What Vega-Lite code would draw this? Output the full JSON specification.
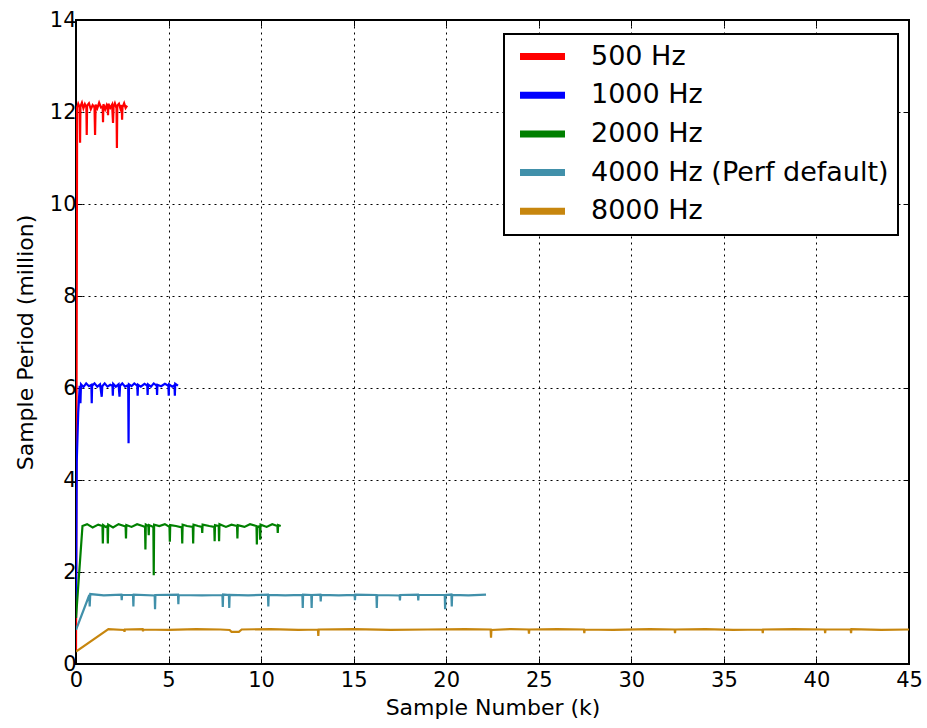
{
  "$schema": "https://vega.github.io/schema/vega-lite/v6.json",
  "autosize": "none",
  "padding": {"left": 76, "top": 20, "right": 18, "bottom": 64},
  "width": 833,
  "height": 644,
  "background": "white",
  "config": {
    "view": {"stroke": "black", "strokeWidth": 2},
    "font": "DejaVu Sans",
    "axis": {
      "labelFont": "DejaVu Sans", "labelFontSize": 21, "labelColor": "black",
      "titleFont": "DejaVu Sans", "titleFontSize": 22, "titleFontWeight": "normal", "titleColor": "black",
      "grid": true, "gridColor": "black", "gridDash": [2, 4], "gridOpacity": 1, "gridWidth": 1,
      "domain": false, "tickColor": "black", "tickSize": -6, "tickWidth": 1,
      "labelFlush": false, "labelOverlap": false
    },
    "legend": {
      "orient": "none", "legendX": 428, "legendY": 14,
      "strokeColor": "black", "strokeWidth": 2, "fillColor": "white", "padding": 9,
      "symbolType": "M-2.5,0H2.5", "symbolSize": 324, "symbolStrokeWidth": 7, "symbolOffset": 16,
      "labelFont": "DejaVu Sans", "labelFontSize": 27, "labelColor": "black",
      "labelOffset": 35, "rowPadding": 9.7, "labelLimit": 400
    }
  },
  "resolve": {"axis": {"x": "independent", "y": "independent"}},
  "layer": [
  {
  "data": {"values": [
    {"s":"500 Hz","x":0,"y":0.3},{"s":"500 Hz","x":0.06,"y":12.1},{"s":"500 Hz","x":0.12,"y":12.18},{"s":"500 Hz","x":0.2,"y":12.1},{"s":"500 Hz","x":0.22,"y":11.33},{"s":"500 Hz","x":0.24,"y":12.12},{"s":"500 Hz","x":0.32,"y":12.2},{"s":"500 Hz","x":0.4,"y":12.08},{"s":"500 Hz","x":0.48,"y":12.17},{"s":"500 Hz","x":0.56,"y":12.1},{"s":"500 Hz","x":0.58,"y":11.5},{"s":"500 Hz","x":0.6,"y":12.14},{"s":"500 Hz","x":0.7,"y":12.19},{"s":"500 Hz","x":0.8,"y":12.06},{"s":"500 Hz","x":0.9,"y":12.15},{"s":"500 Hz","x":1.0,"y":12.1},{"s":"500 Hz","x":1.03,"y":11.5},{"s":"500 Hz","x":1.06,"y":12.16},{"s":"500 Hz","x":1.15,"y":12.08},{"s":"500 Hz","x":1.25,"y":12.2},{"s":"500 Hz","x":1.35,"y":12.1},{"s":"500 Hz","x":1.44,"y":12.12},{"s":"500 Hz","x":1.46,"y":11.78},{"s":"500 Hz","x":1.48,"y":12.17},{"s":"500 Hz","x":1.58,"y":12.06},{"s":"500 Hz","x":1.66,"y":12.15},{"s":"500 Hz","x":1.71,"y":12.1},{"s":"500 Hz","x":1.73,"y":11.93},{"s":"500 Hz","x":1.75,"y":12.18},{"s":"500 Hz","x":1.85,"y":12.09},{"s":"500 Hz","x":1.95,"y":12.16},{"s":"500 Hz","x":2.0,"y":11.76},{"s":"500 Hz","x":2.03,"y":12.12},{"s":"500 Hz","x":2.1,"y":12.19},{"s":"500 Hz","x":2.19,"y":12.08},{"s":"500 Hz","x":2.21,"y":11.22},{"s":"500 Hz","x":2.23,"y":12.14},{"s":"500 Hz","x":2.32,"y":12.18},{"s":"500 Hz","x":2.4,"y":12.07},{"s":"500 Hz","x":2.47,"y":12.15},{"s":"500 Hz","x":2.49,"y":11.83},{"s":"500 Hz","x":2.51,"y":12.1},{"s":"500 Hz","x":2.6,"y":12.19},{"s":"500 Hz","x":2.68,"y":12.09},{"s":"500 Hz","x":2.76,"y":12.14},

    {"s":"1000 Hz","x":0,"y":1.0},{"s":"1000 Hz","x":0.04,"y":4.4},{"s":"1000 Hz","x":0.12,"y":5.47},{"s":"1000 Hz","x":0.2,"y":6.05},{"s":"1000 Hz","x":0.24,"y":5.67},{"s":"1000 Hz","x":0.27,"y":6.08},{"s":"1000 Hz","x":0.4,"y":6.02},{"s":"1000 Hz","x":0.55,"y":6.1},{"s":"1000 Hz","x":0.7,"y":6.04},{"s":"1000 Hz","x":0.83,"y":6.07},{"s":"1000 Hz","x":0.85,"y":5.67},{"s":"1000 Hz","x":0.87,"y":6.05},{"s":"1000 Hz","x":1.0,"y":6.1},{"s":"1000 Hz","x":1.15,"y":6.03},{"s":"1000 Hz","x":1.3,"y":6.08},{"s":"1000 Hz","x":1.39,"y":5.81},{"s":"1000 Hz","x":1.42,"y":6.04},{"s":"1000 Hz","x":1.55,"y":6.1},{"s":"1000 Hz","x":1.7,"y":6.03},{"s":"1000 Hz","x":1.85,"y":6.07},{"s":"1000 Hz","x":1.97,"y":6.05},{"s":"1000 Hz","x":1.99,"y":5.83},{"s":"1000 Hz","x":2.01,"y":6.09},{"s":"1000 Hz","x":2.15,"y":6.03},{"s":"1000 Hz","x":2.3,"y":6.08},{"s":"1000 Hz","x":2.35,"y":5.81},{"s":"1000 Hz","x":2.38,"y":6.05},{"s":"1000 Hz","x":2.5,"y":6.1},{"s":"1000 Hz","x":2.65,"y":6.03},{"s":"1000 Hz","x":2.82,"y":6.06},{"s":"1000 Hz","x":2.84,"y":4.8},{"s":"1000 Hz","x":2.86,"y":6.08},{"s":"1000 Hz","x":3.0,"y":6.04},{"s":"1000 Hz","x":3.15,"y":6.1},{"s":"1000 Hz","x":3.31,"y":6.05},{"s":"1000 Hz","x":3.33,"y":5.83},{"s":"1000 Hz","x":3.35,"y":6.07},{"s":"1000 Hz","x":3.5,"y":6.03},{"s":"1000 Hz","x":3.7,"y":6.09},{"s":"1000 Hz","x":3.85,"y":6.05},{"s":"1000 Hz","x":3.87,"y":5.85},{"s":"1000 Hz","x":3.89,"y":6.08},{"s":"1000 Hz","x":4.05,"y":6.03},{"s":"1000 Hz","x":4.2,"y":6.1},{"s":"1000 Hz","x":4.36,"y":6.05},{"s":"1000 Hz","x":4.38,"y":5.85},{"s":"1000 Hz","x":4.4,"y":6.07},{"s":"1000 Hz","x":4.6,"y":6.04},{"s":"1000 Hz","x":4.8,"y":6.09},{"s":"1000 Hz","x":4.99,"y":6.05},{"s":"1000 Hz","x":5.01,"y":5.83},{"s":"1000 Hz","x":5.03,"y":6.08},{"s":"1000 Hz","x":5.2,"y":6.03},{"s":"1000 Hz","x":5.32,"y":6.06},{"s":"1000 Hz","x":5.34,"y":5.83},{"s":"1000 Hz","x":5.36,"y":6.09},{"s":"1000 Hz","x":5.51,"y":6.05},

    {"s":"2000 Hz","x":0,"y":1.0},{"s":"2000 Hz","x":0.35,"y":3.0},{"s":"2000 Hz","x":0.6,"y":3.04},{"s":"2000 Hz","x":0.9,"y":2.97},{"s":"2000 Hz","x":1.2,"y":3.03},{"s":"2000 Hz","x":1.43,"y":3.0},{"s":"2000 Hz","x":1.45,"y":2.62},{"s":"2000 Hz","x":1.47,"y":3.02},{"s":"2000 Hz","x":1.6,"y":2.98},{"s":"2000 Hz","x":1.7,"y":3.0},{"s":"2000 Hz","x":1.72,"y":2.62},{"s":"2000 Hz","x":1.74,"y":3.03},{"s":"2000 Hz","x":2.0,"y":2.97},{"s":"2000 Hz","x":2.3,"y":3.04},{"s":"2000 Hz","x":2.6,"y":3.0},{"s":"2000 Hz","x":2.68,"y":2.99},{"s":"2000 Hz","x":2.7,"y":2.73},{"s":"2000 Hz","x":2.72,"y":3.02},{"s":"2000 Hz","x":3.0,"y":2.98},{"s":"2000 Hz","x":3.3,"y":3.04},{"s":"2000 Hz","x":3.6,"y":3.0},{"s":"2000 Hz","x":3.73,"y":2.98},{"s":"2000 Hz","x":3.75,"y":2.49},{"s":"2000 Hz","x":3.77,"y":3.03},{"s":"2000 Hz","x":3.91,"y":3.0},{"s":"2000 Hz","x":3.93,"y":2.8},{"s":"2000 Hz","x":3.95,"y":3.02},{"s":"2000 Hz","x":4.18,"y":2.98},{"s":"2000 Hz","x":4.2,"y":1.93},{"s":"2000 Hz","x":4.22,"y":3.03},{"s":"2000 Hz","x":4.5,"y":3.0},{"s":"2000 Hz","x":4.8,"y":3.04},{"s":"2000 Hz","x":5.05,"y":2.98},{"s":"2000 Hz","x":5.07,"y":2.66},{"s":"2000 Hz","x":5.09,"y":3.02},{"s":"2000 Hz","x":5.4,"y":3.0},{"s":"2000 Hz","x":5.72,"y":2.97},{"s":"2000 Hz","x":5.74,"y":2.62},{"s":"2000 Hz","x":5.76,"y":3.03},{"s":"2000 Hz","x":6.0,"y":3.0},{"s":"2000 Hz","x":6.31,"y":2.98},{"s":"2000 Hz","x":6.33,"y":2.62},{"s":"2000 Hz","x":6.35,"y":3.03},{"s":"2000 Hz","x":6.6,"y":3.0},{"s":"2000 Hz","x":6.8,"y":2.98},{"s":"2000 Hz","x":6.82,"y":2.85},{"s":"2000 Hz","x":6.84,"y":3.03},{"s":"2000 Hz","x":7.2,"y":3.0},{"s":"2000 Hz","x":7.47,"y":2.98},{"s":"2000 Hz","x":7.49,"y":2.67},{"s":"2000 Hz","x":7.51,"y":3.02},{"s":"2000 Hz","x":7.71,"y":3.0},{"s":"2000 Hz","x":7.73,"y":2.67},{"s":"2000 Hz","x":7.75,"y":3.04},{"s":"2000 Hz","x":8.1,"y":2.98},{"s":"2000 Hz","x":8.4,"y":3.03},{"s":"2000 Hz","x":8.7,"y":3.0},{"s":"2000 Hz","x":8.72,"y":2.73},{"s":"2000 Hz","x":8.74,"y":3.02},{"s":"2000 Hz","x":9.1,"y":2.98},{"s":"2000 Hz","x":9.4,"y":3.04},{"s":"2000 Hz","x":9.75,"y":3.0},{"s":"2000 Hz","x":9.77,"y":2.6},{"s":"2000 Hz","x":9.79,"y":2.98},{"s":"2000 Hz","x":9.93,"y":3.0},{"s":"2000 Hz","x":9.95,"y":2.7},{"s":"2000 Hz","x":9.97,"y":3.03},{"s":"2000 Hz","x":10.3,"y":2.98},{"s":"2000 Hz","x":10.6,"y":3.04},{"s":"2000 Hz","x":10.88,"y":3.0},{"s":"2000 Hz","x":10.9,"y":2.85},{"s":"2000 Hz","x":10.92,"y":3.02},{"s":"2000 Hz","x":11.06,"y":3.0},

    {"s":"4000 Hz (Perf default)","x":0,"y":0.74},{"s":"4000 Hz (Perf default)","x":0.72,"y":1.5},{"s":"4000 Hz (Perf default)","x":0.74,"y":1.25},{"s":"4000 Hz (Perf default)","x":0.77,"y":1.52},{"s":"4000 Hz (Perf default)","x":1.5,"y":1.49},{"s":"4000 Hz (Perf default)","x":2.45,"y":1.51},{"s":"4000 Hz (Perf default)","x":2.47,"y":1.39},{"s":"4000 Hz (Perf default)","x":2.49,"y":1.5},{"s":"4000 Hz (Perf default)","x":3.08,"y":1.5},{"s":"4000 Hz (Perf default)","x":3.1,"y":1.25},{"s":"4000 Hz (Perf default)","x":3.12,"y":1.51},{"s":"4000 Hz (Perf default)","x":4.25,"y":1.49},{"s":"4000 Hz (Perf default)","x":4.27,"y":1.19},{"s":"4000 Hz (Perf default)","x":4.29,"y":1.5},{"s":"4000 Hz (Perf default)","x":5.51,"y":1.51},{"s":"4000 Hz (Perf default)","x":5.53,"y":1.3},{"s":"4000 Hz (Perf default)","x":5.55,"y":1.5},{"s":"4000 Hz (Perf default)","x":6.8,"y":1.49},{"s":"4000 Hz (Perf default)","x":7.91,"y":1.5},{"s":"4000 Hz (Perf default)","x":7.93,"y":1.24},{"s":"4000 Hz (Perf default)","x":7.95,"y":1.51},{"s":"4000 Hz (Perf default)","x":8.26,"y":1.5},{"s":"4000 Hz (Perf default)","x":8.28,"y":1.22},{"s":"4000 Hz (Perf default)","x":8.3,"y":1.5},{"s":"4000 Hz (Perf default)","x":9.3,"y":1.49},{"s":"4000 Hz (Perf default)","x":10.37,"y":1.51},{"s":"4000 Hz (Perf default)","x":10.39,"y":1.25},{"s":"4000 Hz (Perf default)","x":10.41,"y":1.5},{"s":"4000 Hz (Perf default)","x":11.3,"y":1.49},{"s":"4000 Hz (Perf default)","x":12.23,"y":1.5},{"s":"4000 Hz (Perf default)","x":12.25,"y":1.22},{"s":"4000 Hz (Perf default)","x":12.27,"y":1.51},{"s":"4000 Hz (Perf default)","x":12.71,"y":1.5},{"s":"4000 Hz (Perf default)","x":12.73,"y":1.22},{"s":"4000 Hz (Perf default)","x":12.75,"y":1.5},{"s":"4000 Hz (Perf default)","x":13.2,"y":1.51},{"s":"4000 Hz (Perf default)","x":13.22,"y":1.36},{"s":"4000 Hz (Perf default)","x":13.24,"y":1.5},{"s":"4000 Hz (Perf default)","x":14.2,"y":1.49},{"s":"4000 Hz (Perf default)","x":15.05,"y":1.5},{"s":"4000 Hz (Perf default)","x":15.07,"y":1.39},{"s":"4000 Hz (Perf default)","x":15.09,"y":1.51},{"s":"4000 Hz (Perf default)","x":16.23,"y":1.5},{"s":"4000 Hz (Perf default)","x":16.25,"y":1.22},{"s":"4000 Hz (Perf default)","x":16.27,"y":1.5},{"s":"4000 Hz (Perf default)","x":17.48,"y":1.49},{"s":"4000 Hz (Perf default)","x":17.5,"y":1.38},{"s":"4000 Hz (Perf default)","x":17.52,"y":1.5},{"s":"4000 Hz (Perf default)","x":18.47,"y":1.51},{"s":"4000 Hz (Perf default)","x":18.49,"y":1.38},{"s":"4000 Hz (Perf default)","x":18.51,"y":1.5},{"s":"4000 Hz (Perf default)","x":19.92,"y":1.5},{"s":"4000 Hz (Perf default)","x":19.94,"y":1.19},{"s":"4000 Hz (Perf default)","x":19.96,"y":1.5},{"s":"4000 Hz (Perf default)","x":20.28,"y":1.51},{"s":"4000 Hz (Perf default)","x":20.3,"y":1.25},{"s":"4000 Hz (Perf default)","x":20.32,"y":1.5},{"s":"4000 Hz (Perf default)","x":21.2,"y":1.49},{"s":"4000 Hz (Perf default)","x":22.15,"y":1.51},

    {"s":"8000 Hz","x":0,"y":0.27},{"s":"8000 Hz","x":1.75,"y":0.76},{"s":"8000 Hz","x":2.6,"y":0.74},{"s":"8000 Hz","x":2.62,"y":0.7},{"s":"8000 Hz","x":2.64,"y":0.75},{"s":"8000 Hz","x":3.6,"y":0.76},{"s":"8000 Hz","x":3.62,"y":0.71},{"s":"8000 Hz","x":3.64,"y":0.75},{"s":"8000 Hz","x":5.0,"y":0.74},{"s":"8000 Hz","x":6.5,"y":0.76},{"s":"8000 Hz","x":7.8,"y":0.75},{"s":"8000 Hz","x":8.3,"y":0.74},{"s":"8000 Hz","x":8.4,"y":0.7},{"s":"8000 Hz","x":8.8,"y":0.7},{"s":"8000 Hz","x":8.95,"y":0.75},{"s":"8000 Hz","x":10.5,"y":0.76},{"s":"8000 Hz","x":12.0,"y":0.74},{"s":"8000 Hz","x":13.07,"y":0.75},{"s":"8000 Hz","x":13.09,"y":0.61},{"s":"8000 Hz","x":13.11,"y":0.75},{"s":"8000 Hz","x":15,"y":0.76},{"s":"8000 Hz","x":17,"y":0.74},{"s":"8000 Hz","x":19,"y":0.75},{"s":"8000 Hz","x":21,"y":0.76},{"s":"8000 Hz","x":22.4,"y":0.75},{"s":"8000 Hz","x":22.42,"y":0.57},{"s":"8000 Hz","x":22.44,"y":0.74},{"s":"8000 Hz","x":23.5,"y":0.76},{"s":"8000 Hz","x":24.45,"y":0.75},{"s":"8000 Hz","x":24.47,"y":0.66},{"s":"8000 Hz","x":24.49,"y":0.75},{"s":"8000 Hz","x":26,"y":0.76},{"s":"8000 Hz","x":27.44,"y":0.75},{"s":"8000 Hz","x":27.46,"y":0.67},{"s":"8000 Hz","x":27.48,"y":0.75},{"s":"8000 Hz","x":29,"y":0.74},{"s":"8000 Hz","x":31,"y":0.76},{"s":"8000 Hz","x":32.34,"y":0.75},{"s":"8000 Hz","x":32.36,"y":0.67},{"s":"8000 Hz","x":32.38,"y":0.75},{"s":"8000 Hz","x":34,"y":0.76},{"s":"8000 Hz","x":35.5,"y":0.74},{"s":"8000 Hz","x":37.08,"y":0.75},{"s":"8000 Hz","x":37.1,"y":0.67},{"s":"8000 Hz","x":37.12,"y":0.75},{"s":"8000 Hz","x":38.8,"y":0.76},{"s":"8000 Hz","x":40.45,"y":0.75},{"s":"8000 Hz","x":40.47,"y":0.67},{"s":"8000 Hz","x":40.49,"y":0.75},{"s":"8000 Hz","x":41.85,"y":0.75},{"s":"8000 Hz","x":41.87,"y":0.67},{"s":"8000 Hz","x":41.89,"y":0.76},{"s":"8000 Hz","x":43.5,"y":0.74},{"s":"8000 Hz","x":45,"y":0.75}
  ]},
  "mark": {"type": "line", "strokeWidth": 2.2, "clip": true},
  "encoding": {
    "x": {"field": "x", "type": "quantitative", "scale": {"domain": [0, 45], "nice": false, "zero": false},
      "axis": {"title": "Sample Number (k)", "values": [0,5,10,15,20,25,30,35,40,45], "labelPadding": 11, "titlePadding": 7}},
    "y": {"field": "y", "type": "quantitative", "scale": {"domain": [0, 14], "nice": false},
      "axis": {"title": "Sample Period (million)", "values": [0,2,4,6,8,10,12,14], "labelPadding": 6, "titlePadding": 12}},
    "color": {"field": "s", "type": "nominal",
      "scale": {"domain": ["500 Hz","1000 Hz","2000 Hz","4000 Hz (Perf default)","8000 Hz"],
                "range": ["#ff0000","#0000ff","#008000","#4190aa","#c7860e"]},
      "legend": {"title": null}}
  }
  },
  {
    "data": {"values": [{"x": 0, "y": 0}]},
    "mark": {"type": "point", "opacity": 0},
    "encoding": {
      "x": {"field": "x", "type": "quantitative", "scale": {"domain": [0, 45], "nice": false, "zero": false},
        "axis": {"orient": "top", "title": null, "labels": false, "grid": false, "values": [0,5,10,15,20,25,30,35,40,45]}},
      "y": {"field": "y", "type": "quantitative", "scale": {"domain": [0, 14], "nice": false},
        "axis": {"orient": "right", "title": null, "labels": false, "grid": false, "values": [0,2,4,6,8,10,12,14]}}
    }
  }
  ]
}
